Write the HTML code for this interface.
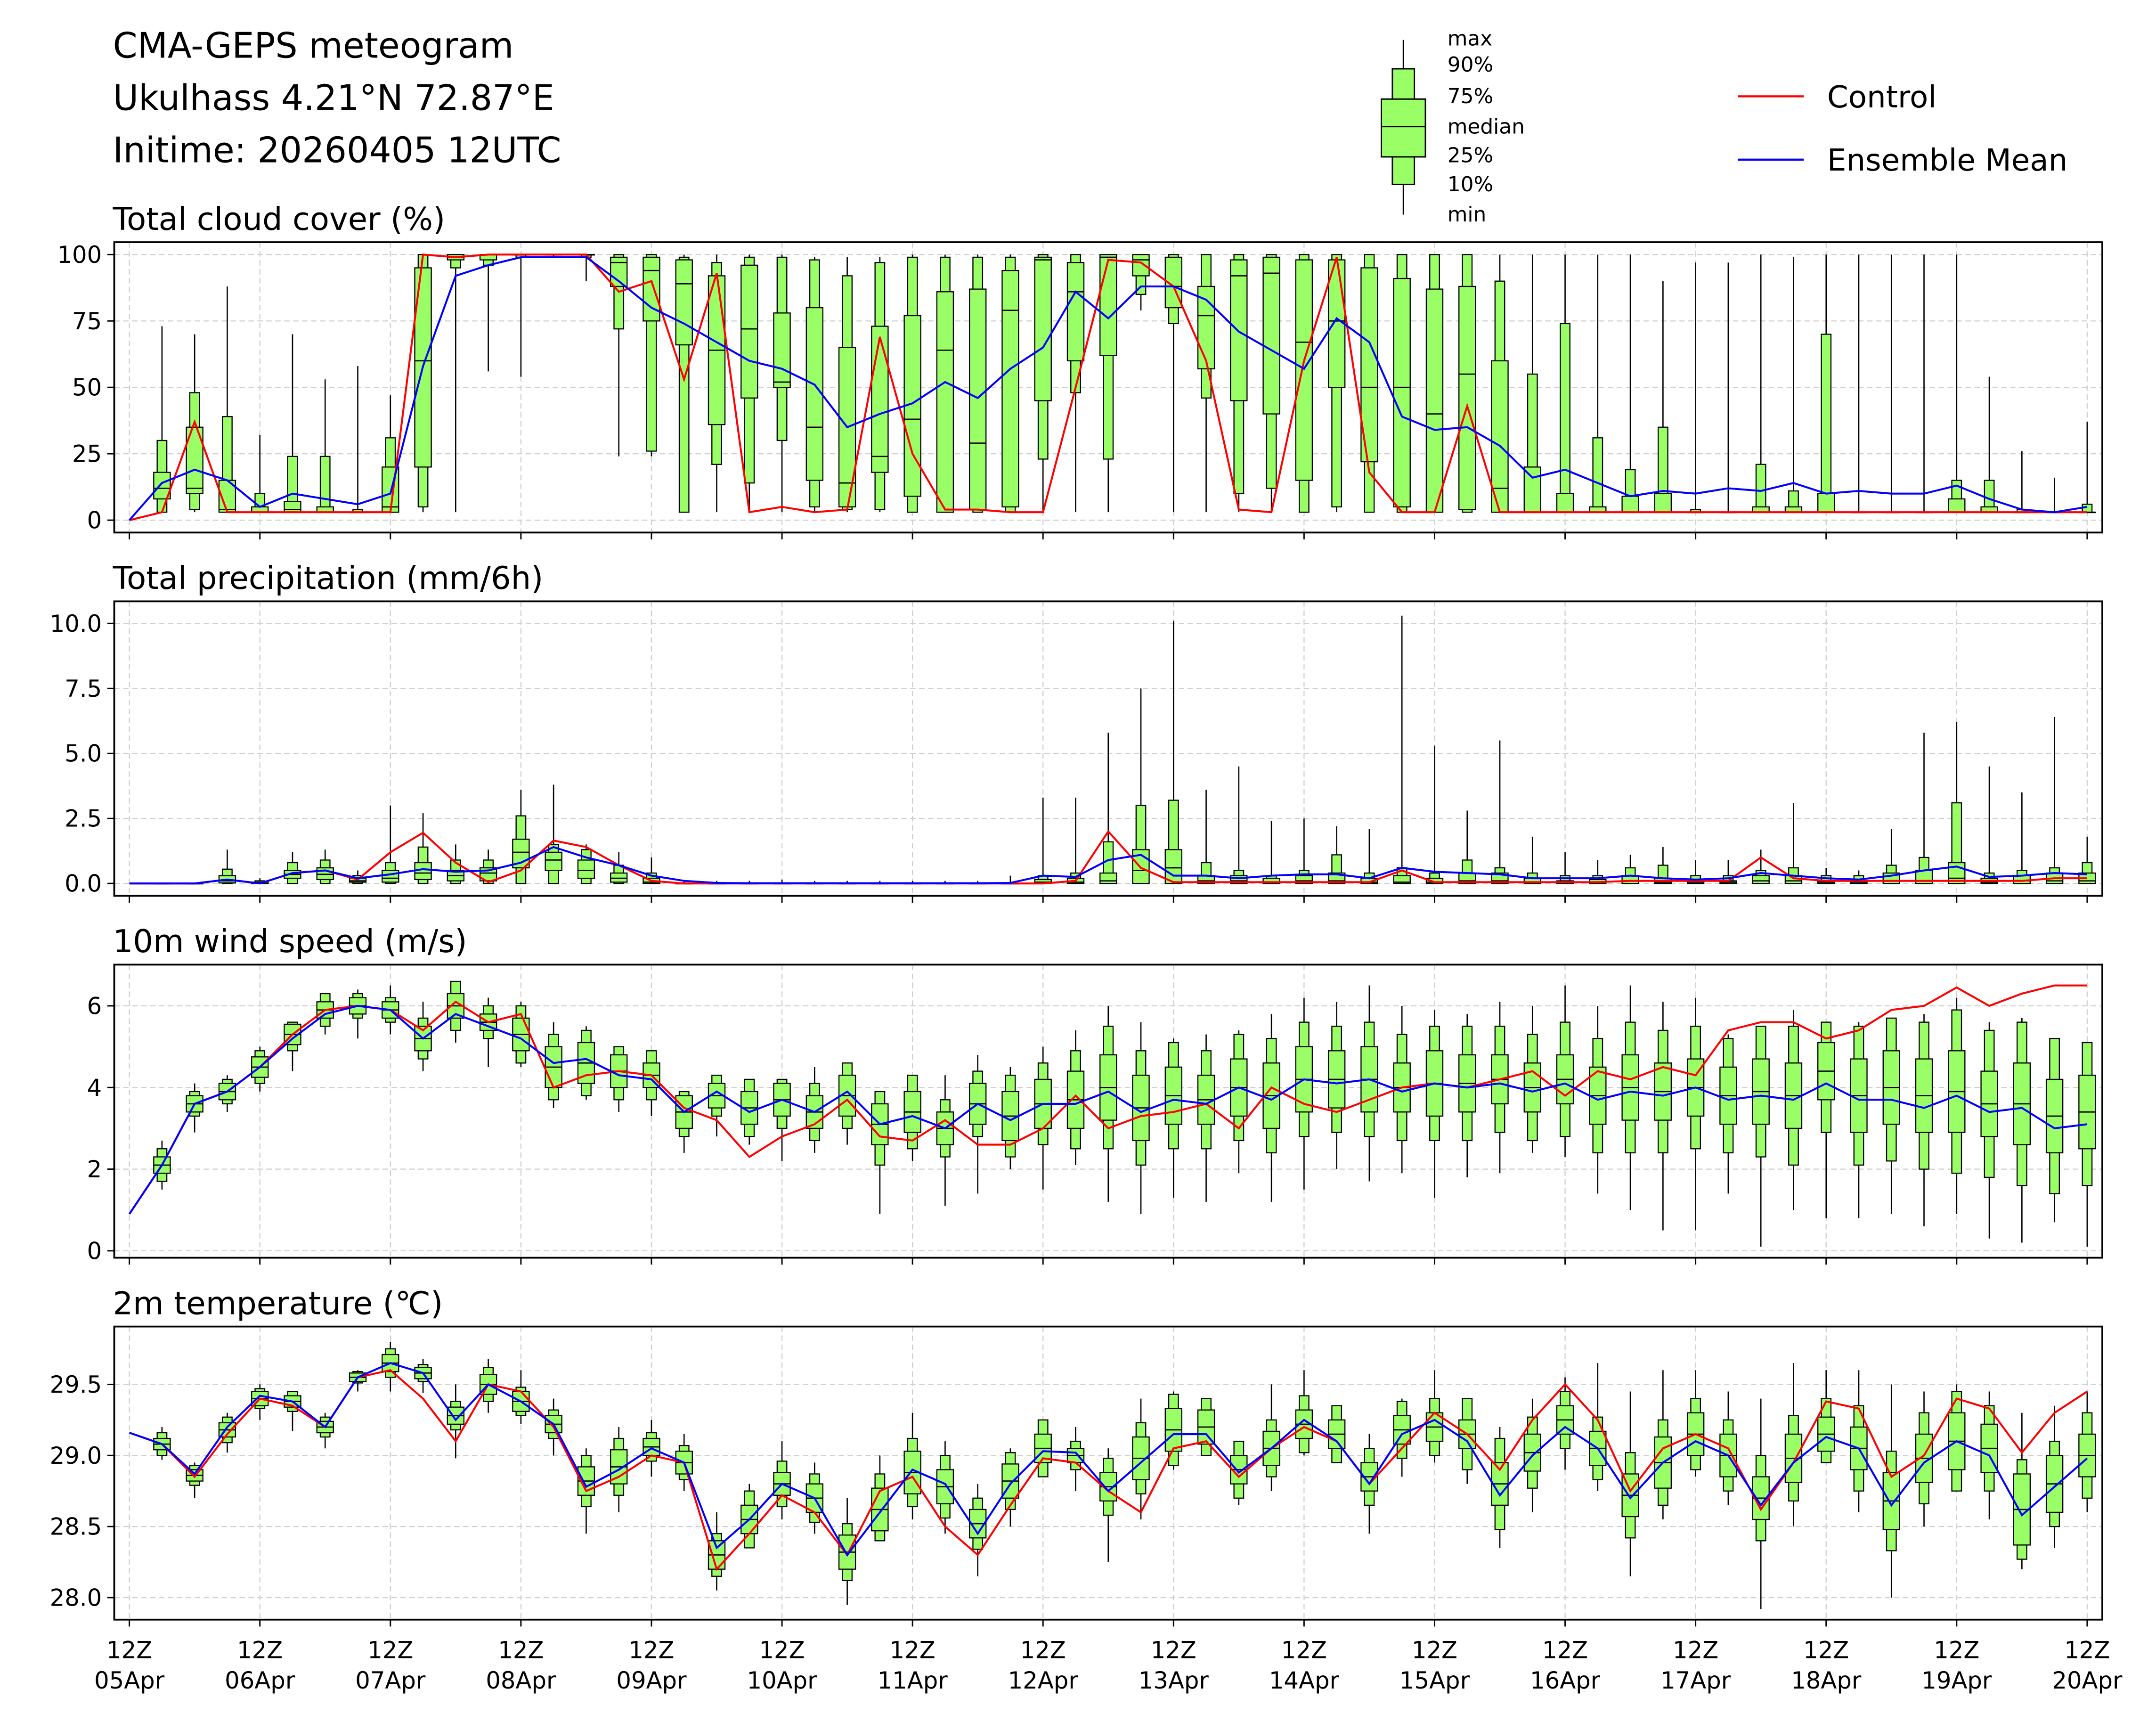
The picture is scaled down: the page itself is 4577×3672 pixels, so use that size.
<!DOCTYPE html>
<html><head><meta charset="utf-8">
<style>
html,body{margin:0;padding:0;background:#fff;}
svg{display:block;font-family:"DejaVu Sans","Liberation Sans",sans-serif;}
</style></head>
<body>
<svg id="chart" width="4577" height="3672" viewBox="0 0 1567 1257.2" xmlns="http://www.w3.org/2000/svg">
<rect width="1567" height="1257.2" fill="#fff"/>
<g font-size="25.5" fill="#000">
<text x="82" y="42">CMA-GEPS meteogram</text>
<text x="82" y="80">Ukulhass 4.21°N 72.87°E</text>
<text x="82" y="118">Initime: 20260405 12UTC</text>
</g>
<g font-size="15">
<line x1="1020" y1="29" x2="1020" y2="156" stroke="#000" stroke-width="1"/>
<rect x="1012" y="50" width="16" height="84" fill="#9aff66" stroke="#000" stroke-width="1"/>
<rect x="1004" y="72" width="32" height="42" fill="#9aff66" stroke="#000" stroke-width="1"/>
<line x1="1004" y1="92" x2="1036" y2="92" stroke="#000" stroke-width="1"/>
<text x="1052" y="33">max</text><text x="1052" y="52">90%</text><text x="1052" y="75">75%</text>
<text x="1052" y="97">median</text><text x="1052" y="118">25%</text><text x="1052" y="139">10%</text><text x="1052" y="161">min</text>
</g>
<g font-size="22">
<line x1="1263" y1="70" x2="1311" y2="70" stroke="#f00" stroke-width="1.5"/>
<text x="1328" y="78">Control</text>
<line x1="1263" y1="116" x2="1311" y2="116" stroke="#00f" stroke-width="1.5"/>
<text x="1328" y="124">Ensemble Mean</text>
</g>
<g id="panels"></g>
</svg>
<script>
// ---- data (index = 6h step, 0..60) ----
const dayLabels = ["05Apr","06Apr","07Apr","08Apr","09Apr","10Apr","11Apr","12Apr","13Apr","14Apr","15Apr","16Apr","17Apr","18Apr","19Apr","20Apr"];
const cloudCtrl = [0,3,37,3,3,3,3,3,3,100,99,100,100,100,100,86,90,53,93,3,5,3,4,69,25,4,4,3,3,50,98,97,88,60,4,3,60,99,18,3,3,43,3,3,3,3,3,3,3,3,3,3,3,3,3,3,3,3,3,3,3];
const cloudMean = [0,14,19,15,5,10,8,6,10,58,92,96,99,99,99,90,80,74,67,60,57,51,35,40,44,52,46,57,65,86,76,88,88,83,71,64,57,76,67,39,34,35,28,16,19,14,9,11,10,12,11,14,10,11,10,10,13,8,4,3,5];
const cloudMin = [null,3,3,3,3,3,3,3,3,3,3,56,54,99,90,24,24,3,3,3,3,3,3,3,3,3,3,3,3,3,3,79,3,3,3,3,3,3,3,3,3,3,3,3,3,3,3,3,3,3,3,3,3,3,3,3,3,3,3,3,3];
const cloudP10 = [null,3,4,3,3,3,3,3,3,5,95,96,99,100,99,72,26,3,21,14,30,5,4,4,3,3,3,3,23,48,23,85,74,46,10,12,3,5,3,3,3,3,3,3,3,3,3,3,3,3,3,3,3,3,3,3,3,3,3,3,3];
const cloudQ1 = [null,8,10,3,3,3,3,3,3,20,98,98,100,100,100,88,75,66,36,46,50,15,5,18,9,3,4,5,45,60,62,92,80,57,45,40,15,50,22,5,3,4,3,3,3,3,3,3,3,3,3,3,3,3,3,3,3,3,3,3,3];
const cloudMed = [null,12,12,4,3,4,3,3,5,60,99,100,100,100,100,97,94,89,64,72,52,35,14,24,38,64,29,79,98,86,99,98,88,77,92,93,67,75,50,50,40,55,12,3,3,3,3,3,3,3,3,3,3,3,3,3,3,3,3,3,3];
const cloudQ3 = [null,18,35,15,5,7,5,3,20,95,100,100,100,100,100,99,99,98,92,96,78,80,65,73,77,86,87,94,99,97,100,100,99,88,98,99,98,98,95,91,87,88,60,20,10,5,9,10,3,3,5,5,10,3,3,3,8,5,3,3,3];
const cloudP90 = [null,30,48,39,10,24,24,4,31,100,100,100,100,100,100,100,100,99,97,99,99,98,92,97,99,99,99,99,100,100,100,100,100,100,100,100,100,100,100,100,100,100,90,55,74,31,19,35,4,3,21,11,70,3,3,3,15,15,4,3,6];
const cloudMax = [null,73,70,88,32,70,53,58,47,100,100,100,100,100,100,100,100,100,100,100,100,99,99,99,100,100,100,100,100,100,100,100,100,100,100,100,100,100,100,100,100,100,100,100,100,100,100,90,97,97,100,99,100,100,100,100,100,54,26,16,37];

const precCtrl = [0,0,0,0.15,0,0.4,0.5,0.15,1.2,1.95,0.8,0.05,0.5,1.65,1.4,0.7,0.1,0,0,0,0,0,0,0,0,0,0,0,0,0.1,2.0,0.6,0.05,0.05,0.05,0.05,0.05,0.05,0.05,0.5,0.05,0.05,0.05,0.05,0.05,0.05,0.1,0.1,0.1,0.1,1.0,0.2,0.1,0.1,0.1,0.1,0.1,0.1,0.1,0.2,0.2];
const precMean = [0,0,0,0.15,0,0.4,0.5,0.2,0.35,0.55,0.45,0.5,0.8,1.4,1.0,0.7,0.3,0.1,0.02,0.01,0.01,0.01,0.01,0.01,0.01,0.01,0.01,0.02,0.3,0.25,0.9,1.1,0.3,0.3,0.2,0.3,0.35,0.35,0.2,0.6,0.45,0.4,0.35,0.2,0.2,0.2,0.3,0.2,0.15,0.2,0.4,0.3,0.2,0.15,0.3,0.5,0.65,0.25,0.3,0.4,0.35];
const precMed = [null,0,0,0.1,0,0.35,0.35,0.1,0.2,0.4,0.3,0.4,1.2,0.9,0.5,0.2,0.05,0,0,0,0,0,0,0,0,0,0,0,0.05,0.05,0.1,0.5,0.6,0.1,0.1,0.05,0.1,0.1,0.05,0.05,0.05,0.1,0.1,0.05,0.05,0.05,0.1,0.05,0.05,0.05,0.1,0.1,0.05,0.05,0.1,0.1,0.2,0.05,0.1,0.1,0.1];
const precQ1 = [null,0,0,0.02,0,0.2,0.15,0.05,0.05,0.15,0.1,0.1,0.6,0.5,0.2,0.05,0,0,0,0,0,0,0,0,0,0,0,0,0,0,0,0,0,0,0,0,0,0,0,0,0,0,0,0,0,0,0,0,0,0,0,0,0,0,0,0,0,0,0,0,0];
const precQ3 = [null,0,0,0.3,0.05,0.5,0.6,0.2,0.5,0.8,0.5,0.6,1.7,1.2,0.9,0.4,0.2,0,0,0,0,0,0,0,0,0,0,0,0.15,0.2,0.4,1.3,1.3,0.3,0.3,0.2,0.3,0.4,0.2,0.3,0.2,0.4,0.4,0.2,0.1,0.15,0.3,0.2,0.15,0.1,0.3,0.3,0.1,0.1,0.4,0.5,0.8,0.2,0.3,0.4,0.4];
const precP90 = [null,0,0,0.55,0.1,0.8,0.9,0.3,0.8,1.4,0.9,0.9,2.6,1.5,1.3,0.7,0.4,0.02,0.01,0.01,0.01,0.01,0.01,0.01,0.01,0.01,0.01,0.02,0.3,0.4,1.6,3.0,3.2,0.8,0.5,0.3,0.5,1.1,0.4,0.6,0.4,0.9,0.6,0.4,0.3,0.3,0.6,0.7,0.3,0.3,0.5,0.6,0.3,0.3,0.7,1.0,3.1,0.4,0.5,0.6,0.8];
const precMax = [null,0,0,1.3,0.2,1.2,1.3,0.5,3.0,2.7,1.5,1.3,3.6,3.8,1.5,1.2,1.0,0.1,0.1,0.1,0.15,0.1,0.1,0.1,0.1,0.1,0.1,0.3,3.3,3.3,5.8,7.5,10.1,3.6,4.5,2.4,2.5,2.2,2.1,10.3,5.3,2.8,5.5,1.8,1.2,0.9,1.1,1.4,0.9,0.9,1.3,3.1,0.6,0.5,2.1,5.8,6.2,4.5,3.5,6.4,1.8];

const windCtrl = [0.9,2.1,3.6,3.9,4.5,5.3,5.9,6.0,5.9,5.4,6.1,5.6,5.8,4.0,4.3,4.4,4.3,3.5,3.2,2.3,2.8,3.1,3.7,2.8,2.7,3.2,2.6,2.6,3.0,3.8,3.0,3.3,3.4,3.6,3.0,4.0,3.6,3.4,3.7,4.0,4.1,4.0,4.2,4.4,3.8,4.4,4.2,4.5,4.3,5.4,5.6,5.6,5.2,5.4,5.9,6.0,6.45,6.0,6.3,6.5,6.5];
const windMean = [0.9,2.1,3.6,3.9,4.5,5.2,5.8,6.0,5.9,5.2,5.8,5.5,5.2,4.6,4.7,4.3,4.2,3.4,3.9,3.4,3.7,3.4,3.9,3.1,3.3,3.0,3.6,3.2,3.6,3.6,3.9,3.4,3.7,3.6,4.0,3.7,4.2,4.1,4.2,3.9,4.1,4.0,4.1,3.9,4.1,3.7,3.9,3.8,4.0,3.7,3.8,3.7,4.1,3.7,3.7,3.5,3.8,3.4,3.5,3.0,3.1];
const windMed = [null,2.1,3.6,3.9,4.5,5.3,5.9,6.0,5.9,5.2,6.0,5.6,5.3,4.5,4.6,4.4,4.3,3.4,3.8,3.5,3.7,3.4,3.8,3.1,3.4,3.0,3.6,3.3,3.6,3.7,4.0,3.5,3.8,3.7,4.0,3.8,4.2,4.2,4.2,4.0,4.1,4.1,4.2,4.0,4.2,3.8,4.0,3.9,4.0,3.8,3.9,3.8,4.4,3.8,4.0,3.8,3.9,3.6,3.6,3.3,3.4];
const windIqr = [null,0.2,0.2,0.2,0.25,0.25,0.2,0.2,0.2,0.3,0.3,0.2,0.4,0.5,0.5,0.4,0.3,0.4,0.3,0.4,0.4,0.4,0.5,0.5,0.5,0.4,0.5,0.6,0.6,0.7,0.8,0.8,0.7,0.6,0.7,0.8,0.8,0.7,0.8,0.6,0.8,0.7,0.6,0.6,0.6,0.7,0.8,0.7,0.7,0.7,0.8,0.8,0.7,0.9,0.9,0.9,1.0,0.8,1.0,0.9,0.9];
const windP = [null,0.4,0.3,0.3,0.4,0.4,0.4,0.3,0.3,0.5,0.6,0.4,0.7,0.8,0.8,0.7,0.6,0.6,0.5,0.7,0.7,0.7,0.8,1.0,0.9,0.7,0.8,1.0,1.0,1.2,1.5,1.4,1.3,1.2,1.3,1.4,1.4,1.3,1.4,1.3,1.4,1.4,1.3,1.3,1.4,1.4,1.6,1.5,1.5,1.4,1.6,1.7,1.5,1.7,1.8,1.8,2.0,1.8,2.0,1.9,1.8];
const windMin = [null,1.5,2.9,3.4,3.9,4.4,5.3,5.2,5.3,4.4,5.1,4.5,4.5,3.5,3.7,3.4,3.3,2.4,2.8,2.6,2.2,2.4,2.6,0.9,2.2,1.1,1.4,2.0,1.5,2.1,1.2,0.9,1.3,1.2,1.9,1.2,1.5,2.0,1.7,1.9,1.3,1.8,1.9,2.4,2.3,1.4,1.0,0.5,0.5,1.4,0.1,1.0,0.8,0.8,0.9,0.6,0.9,0.3,0.2,0.7,0.1];
const windMax = [null,2.7,4.1,4.3,5.0,5.6,6.3,6.4,6.5,6.1,6.6,6.2,6.1,5.6,5.5,5.0,4.9,3.9,4.3,4.2,4.2,4.5,4.6,3.9,4.3,4.3,4.8,4.5,5.0,5.4,6.0,5.6,5.2,5.3,5.4,5.8,6.2,6.1,6.5,6.0,5.9,5.8,6.1,6.0,6.5,6.0,6.5,6.1,6.2,5.3,5.5,5.9,5.6,5.6,5.7,5.8,6.2,5.6,5.7,5.2,5.1];

const tempCtrl = [29.16,29.08,28.85,29.15,29.4,29.35,29.2,29.55,29.6,29.4,29.1,29.5,29.45,29.2,28.75,28.85,29.0,28.95,28.2,28.45,28.72,28.6,28.3,28.75,28.85,28.5,28.3,28.65,28.98,28.95,28.75,28.6,29.05,29.1,28.85,29.05,29.2,29.1,28.8,29.05,29.3,29.15,28.9,29.25,29.5,29.25,28.75,29.05,29.15,29.05,28.62,28.95,29.38,29.33,28.85,29.0,29.4,29.33,29.02,29.3,29.45];
const tempMean = [29.16,29.08,28.87,29.2,29.42,29.38,29.2,29.55,29.65,29.58,29.25,29.5,29.38,29.22,28.78,28.9,29.05,28.95,28.35,28.55,28.8,28.7,28.3,28.6,28.9,28.8,28.45,28.8,29.03,29.02,28.75,28.95,29.15,29.15,28.88,29.05,29.25,29.1,28.8,29.15,29.25,29.1,28.72,29.0,29.2,29.05,28.7,28.95,29.1,29.0,28.65,28.95,29.13,29.05,28.65,28.95,29.1,29.0,28.58,28.78,28.98];
const tempMed = [null,29.08,28.86,29.18,29.4,29.38,29.2,29.55,29.65,29.58,29.28,29.5,29.38,29.22,28.82,28.92,29.06,28.95,28.3,28.55,28.8,28.7,28.32,28.62,28.88,28.78,28.52,28.82,29.05,29.0,28.78,28.98,29.18,29.2,28.9,29.05,29.22,29.15,28.85,29.18,29.2,29.15,28.8,29.02,29.25,29.05,28.72,28.95,29.15,29.0,28.7,28.98,29.15,29.05,28.68,28.98,29.1,29.05,28.62,28.8,29.0];
const tempIqr = [null,0.04,0.04,0.05,0.05,0.04,0.04,0.03,0.06,0.04,0.06,0.07,0.07,0.06,0.1,0.12,0.06,0.08,0.1,0.1,0.08,0.1,0.12,0.15,0.15,0.12,0.1,0.12,0.1,0.05,0.1,0.15,0.15,0.12,0.1,0.12,0.1,0.1,0.1,0.1,0.1,0.1,0.15,0.13,0.1,0.12,0.15,0.18,0.15,0.15,0.15,0.17,0.12,0.15,0.2,0.17,0.2,0.17,0.25,0.2,0.15];
const tempP = [null,0.08,0.07,0.09,0.07,0.07,0.07,0.04,0.1,0.06,0.1,0.12,0.1,0.1,0.18,0.2,0.1,0.12,0.15,0.2,0.16,0.17,0.2,0.25,0.24,0.22,0.18,0.2,0.2,0.1,0.2,0.25,0.25,0.2,0.2,0.2,0.2,0.2,0.2,0.2,0.2,0.25,0.32,0.25,0.2,0.22,0.3,0.3,0.25,0.25,0.3,0.3,0.25,0.3,0.35,0.32,0.35,0.3,0.35,0.3,0.3];
const tempMin = [null,28.97,28.7,29.02,29.25,29.17,29.05,29.45,29.45,29.44,28.98,29.3,29.22,29.0,28.45,28.6,28.85,28.75,28.05,28.35,28.55,28.45,27.95,28.4,28.55,28.45,28.15,28.5,28.85,28.75,28.25,28.55,28.9,29.0,28.65,28.75,29.0,28.95,28.45,28.85,28.95,28.8,28.35,28.6,28.9,28.75,28.15,28.55,28.85,28.65,27.92,28.5,28.95,28.6,28.0,28.5,28.75,28.55,28.2,28.35,28.6];
const tempMax = [null,29.2,28.95,29.3,29.5,29.45,29.3,29.6,29.8,29.68,29.5,29.68,29.6,29.4,29.05,29.2,29.25,29.15,28.6,28.8,29.1,28.95,28.7,29.0,29.3,29.1,28.8,29.05,29.25,29.2,29.05,29.4,29.45,29.4,29.1,29.5,29.6,29.35,29.15,29.4,29.6,29.4,29.2,29.4,29.55,29.65,29.45,29.6,29.6,29.45,29.4,29.65,29.6,29.6,29.5,29.45,29.5,29.45,29.3,29.35,29.45];

// ---- layout ----
const X0 = 94, DAYW = (1517 - 94) / 15, STEP = DAYW / 4;
function xs(i){ return X0 + i * STEP; }
const NS = "http://www.w3.org/2000/svg";
const root = document.getElementById('panels');
function mk(tag, attrs, parent){
  const e = document.createElementNS(NS, tag);
  for (const k in attrs) e.setAttribute(k, attrs[k]);
  (parent || root).appendChild(e);
  return e;
}
function panel(cfg){
  const g = mk('g', {});
  
  
  const L = 83, R = 1528, T = cfg.top, B = cfg.bottom;
  const ys = v => B - (v - cfg.ymin) / (cfg.ymax - cfg.ymin) * (B - T);
  for (let d = 0; d <= 15; d++) {
    const gl = mk('line', {x1: xs(d*4), x2: xs(d*4), y1: T, y2: B, stroke: '#d0d0d0', 'stroke-width': 0.8, 'stroke-dasharray': '4,2.5'}, g);
    
    
  }
  cfg.ticks.forEach((t, k) => {
    const y = ys(t);
    const gl = mk('line', {x1: L, x2: R, y1: y, y2: y, stroke: '#d0d0d0', 'stroke-width': 0.8, 'stroke-dasharray': '4,2.5'}, g);
    
    
    mk('line', {x1: L - 5, x2: L, y1: y, y2: y, stroke: '#000', 'stroke-width': 1}, g);
    const tx = mk('text', {x: L - 9, y: y + 6, 'text-anchor': 'end', 'font-size': 17}, g);
    tx.textContent = cfg.tickLabels[k];
    
    
  });
  const s = cfg.stats;
  for (let i = 1; i < s.med.length; i++) {
    const x = xs(i);
    const bg = mk('g', {}, g);
    
    
    mk('line', {x1: x, x2: x, y1: ys(s.min[i]), y2: ys(s.max[i]), stroke: '#000', 'stroke-width': 0.9}, bg);
    mk('rect', {x: x - 3.5, width: 7, y: ys(s.p90[i]), height: Math.max(0.3, ys(s.p10[i]) - ys(s.p90[i])), fill: '#9aff66', stroke: '#000', 'stroke-width': 0.8}, bg);
    mk('rect', {x: x - 6, width: 12, y: ys(s.q3[i]), height: Math.max(0.3, ys(s.q1[i]) - ys(s.q3[i])), fill: '#9aff66', stroke: '#000', 'stroke-width': 0.8}, bg);
    mk('line', {x1: x - 6, x2: x + 6, y1: ys(s.med[i]), y2: ys(s.med[i]), stroke: '#000', 'stroke-width': 0.9}, bg);
  }
  [[cfg.ctrl, '#f00', 'control-line'], [cfg.mean, '#00f', 'ensemble-mean-line']].forEach(([arr, col, nm]) => {
    const p = mk('polyline', {points: arr.map((v, i) => xs(i).toFixed(2) + ',' + ys(v).toFixed(2)).join(' '), fill: 'none', stroke: col, 'stroke-width': 1.4}, g);
    
    
  });
  const fr = mk('rect', {x: L, y: T, width: R - L, height: B - T, fill: 'none', stroke: '#000', 'stroke-width': 1.3}, g);
  
  
  for (let d = 0; d <= 15; d++) mk('line', {x1: xs(d*4), x2: xs(d*4), y1: B, y2: B + 5, stroke: '#000', 'stroke-width': 1}, g);
  const tt = mk('text', {x: 82, y: T - 9, 'font-size': 23}, g);
  tt.textContent = cfg.title;
  
  
  if (cfg.last) {
    dayLabels.forEach((lab, d) => {
      const t1 = mk('text', {x: xs(d*4), y: B + 28, 'text-anchor': 'middle', 'font-size': 17}, g);
      t1.textContent = '12Z';
      
      
      const t2 = mk('text', {x: xs(d*4), y: B + 50, 'text-anchor': 'middle', 'font-size': 17}, g);
      t2.textContent = lab;
      
      
    });
  }
}
function mkStats(med, spreadI, spreadP, mn, mx){
  return {med, min: mn, max: mx,
    q1: med.map((v,i)=> v==null?null: v - spreadI[i]), q3: med.map((v,i)=> v==null?null: v + spreadI[i]),
    p10: med.map((v,i)=> v==null?null: Math.max(mn[i], v - spreadP[i])), p90: med.map((v,i)=> v==null?null: Math.min(mx[i], v + spreadP[i]))};
}
panel({name:'cloud-cover-panel', title:'Total cloud cover (%)', top:176, bottom:387, ymin:-4.66, ymax:104.66,
  ticks:[0,25,50,75,100], tickLabels:['0','25','50','75','100'], ctrl:cloudCtrl, mean:cloudMean,
  stats:{med:cloudMed,min:cloudMin,max:cloudMax,q1:cloudQ1,q3:cloudQ3,p10:cloudP10,p90:cloudP90}});
panel({name:'precipitation-panel', title:'Total precipitation (mm/6h)', top:437, bottom:651, ymin:-0.476, ymax:10.85,
  ticks:[0,2.5,5,7.5,10], tickLabels:['0.0','2.5','5.0','7.5','10.0'], ctrl:precCtrl, mean:precMean,
  stats:{med:precMed,min:precQ1.map(v=>v==null?null:0),max:precMax,q1:precQ1,q3:precQ3,p10:precQ1.map(v=>v==null?null:0),p90:precP90}});
panel({name:'wind-speed-panel', title:'10m wind speed (m/s)', top:701, bottom:914, ymin:-0.17, ymax:7.01,
  ticks:[0,2,4,6], tickLabels:['0','2','4','6'], ctrl:windCtrl, mean:windMean,
  stats:mkStats(windMed, windIqr, windP, windMin, windMax)});
panel({name:'temperature-panel', title:'2m temperature (℃)', top:964, bottom:1177, ymin:27.845, ymax:29.907,
  ticks:[28,28.5,29,29.5], tickLabels:['28.0','28.5','29.0','29.5'], ctrl:tempCtrl, mean:tempMean, last:true,
  stats:mkStats(tempMed, tempIqr, tempP, tempMin, tempMax)});
</script>
</body></html>
